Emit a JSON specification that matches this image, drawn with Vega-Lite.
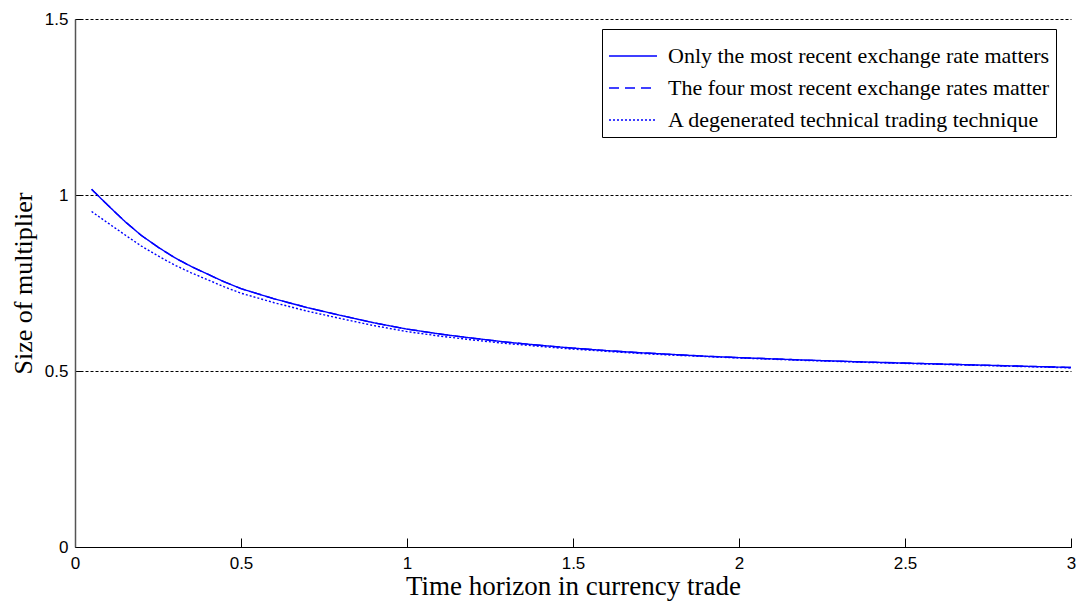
{
  "$schema": "https://vega.github.io/schema/vega-lite/v6.json",
  "width": 996,
  "height": 528,
  "autosize": "none",
  "padding": {"left": 75, "top": 19, "right": 9, "bottom": 55},
  "background": "white",
  "config": {"view": {"stroke": null}},
  "datasets": {
    "curves": [
      {"t": 0.05, "m": 1.016, "s": "Only the most recent exchange rate matters"},
      {"t": 0.1, "m": 0.970, "s": "Only the most recent exchange rate matters"},
      {"t": 0.15, "m": 0.925, "s": "Only the most recent exchange rate matters"},
      {"t": 0.2, "m": 0.885, "s": "Only the most recent exchange rate matters"},
      {"t": 0.25, "m": 0.852, "s": "Only the most recent exchange rate matters"},
      {"t": 0.3, "m": 0.822, "s": "Only the most recent exchange rate matters"},
      {"t": 0.35, "m": 0.797, "s": "Only the most recent exchange rate matters"},
      {"t": 0.4, "m": 0.775, "s": "Only the most recent exchange rate matters"},
      {"t": 0.45, "m": 0.753, "s": "Only the most recent exchange rate matters"},
      {"t": 0.5, "m": 0.734, "s": "Only the most recent exchange rate matters"},
      {"t": 0.6, "m": 0.705, "s": "Only the most recent exchange rate matters"},
      {"t": 0.7, "m": 0.680, "s": "Only the most recent exchange rate matters"},
      {"t": 0.8, "m": 0.658, "s": "Only the most recent exchange rate matters"},
      {"t": 0.9, "m": 0.637, "s": "Only the most recent exchange rate matters"},
      {"t": 1.0, "m": 0.619, "s": "Only the most recent exchange rate matters"},
      {"t": 1.1, "m": 0.605, "s": "Only the most recent exchange rate matters"},
      {"t": 1.2, "m": 0.593, "s": "Only the most recent exchange rate matters"},
      {"t": 1.3, "m": 0.582, "s": "Only the most recent exchange rate matters"},
      {"t": 1.4, "m": 0.573, "s": "Only the most recent exchange rate matters"},
      {"t": 1.5, "m": 0.565, "s": "Only the most recent exchange rate matters"},
      {"t": 1.6, "m": 0.558, "s": "Only the most recent exchange rate matters"},
      {"t": 1.7, "m": 0.552, "s": "Only the most recent exchange rate matters"},
      {"t": 1.8, "m": 0.547, "s": "Only the most recent exchange rate matters"},
      {"t": 1.9, "m": 0.542, "s": "Only the most recent exchange rate matters"},
      {"t": 2.0, "m": 0.538, "s": "Only the most recent exchange rate matters"},
      {"t": 2.2, "m": 0.531, "s": "Only the most recent exchange rate matters"},
      {"t": 2.4, "m": 0.525, "s": "Only the most recent exchange rate matters"},
      {"t": 2.6, "m": 0.520, "s": "Only the most recent exchange rate matters"},
      {"t": 2.8, "m": 0.515, "s": "Only the most recent exchange rate matters"},
      {"t": 3.0, "m": 0.510, "s": "Only the most recent exchange rate matters"},
      {"t": 0.05, "m": 1.016, "s": "The four most recent exchange rates matter"},
      {"t": 0.1, "m": 0.970, "s": "The four most recent exchange rates matter"},
      {"t": 0.15, "m": 0.925, "s": "The four most recent exchange rates matter"},
      {"t": 0.2, "m": 0.885, "s": "The four most recent exchange rates matter"},
      {"t": 0.25, "m": 0.852, "s": "The four most recent exchange rates matter"},
      {"t": 0.3, "m": 0.822, "s": "The four most recent exchange rates matter"},
      {"t": 0.35, "m": 0.797, "s": "The four most recent exchange rates matter"},
      {"t": 0.4, "m": 0.775, "s": "The four most recent exchange rates matter"},
      {"t": 0.45, "m": 0.753, "s": "The four most recent exchange rates matter"},
      {"t": 0.5, "m": 0.734, "s": "The four most recent exchange rates matter"},
      {"t": 0.6, "m": 0.705, "s": "The four most recent exchange rates matter"},
      {"t": 0.7, "m": 0.680, "s": "The four most recent exchange rates matter"},
      {"t": 0.8, "m": 0.658, "s": "The four most recent exchange rates matter"},
      {"t": 0.9, "m": 0.637, "s": "The four most recent exchange rates matter"},
      {"t": 1.0, "m": 0.619, "s": "The four most recent exchange rates matter"},
      {"t": 1.1, "m": 0.605, "s": "The four most recent exchange rates matter"},
      {"t": 1.2, "m": 0.593, "s": "The four most recent exchange rates matter"},
      {"t": 1.3, "m": 0.582, "s": "The four most recent exchange rates matter"},
      {"t": 1.4, "m": 0.573, "s": "The four most recent exchange rates matter"},
      {"t": 1.5, "m": 0.565, "s": "The four most recent exchange rates matter"},
      {"t": 1.6, "m": 0.558, "s": "The four most recent exchange rates matter"},
      {"t": 1.7, "m": 0.552, "s": "The four most recent exchange rates matter"},
      {"t": 1.8, "m": 0.547, "s": "The four most recent exchange rates matter"},
      {"t": 1.9, "m": 0.542, "s": "The four most recent exchange rates matter"},
      {"t": 2.0, "m": 0.538, "s": "The four most recent exchange rates matter"},
      {"t": 2.2, "m": 0.531, "s": "The four most recent exchange rates matter"},
      {"t": 2.4, "m": 0.525, "s": "The four most recent exchange rates matter"},
      {"t": 2.6, "m": 0.520, "s": "The four most recent exchange rates matter"},
      {"t": 2.8, "m": 0.515, "s": "The four most recent exchange rates matter"},
      {"t": 3.0, "m": 0.510, "s": "The four most recent exchange rates matter"},
      {"t": 0.05, "m": 0.953, "s": "A degenerated technical trading technique"},
      {"t": 0.1, "m": 0.920, "s": "A degenerated technical trading technique"},
      {"t": 0.15, "m": 0.887, "s": "A degenerated technical trading technique"},
      {"t": 0.2, "m": 0.855, "s": "A degenerated technical trading technique"},
      {"t": 0.25, "m": 0.827, "s": "A degenerated technical trading technique"},
      {"t": 0.3, "m": 0.801, "s": "A degenerated technical trading technique"},
      {"t": 0.35, "m": 0.779, "s": "A degenerated technical trading technique"},
      {"t": 0.4, "m": 0.759, "s": "A degenerated technical trading technique"},
      {"t": 0.45, "m": 0.739, "s": "A degenerated technical trading technique"},
      {"t": 0.5, "m": 0.721, "s": "A degenerated technical trading technique"},
      {"t": 0.6, "m": 0.694, "s": "A degenerated technical trading technique"},
      {"t": 0.7, "m": 0.670, "s": "A degenerated technical trading technique"},
      {"t": 0.8, "m": 0.649, "s": "A degenerated technical trading technique"},
      {"t": 0.9, "m": 0.629, "s": "A degenerated technical trading technique"},
      {"t": 1.0, "m": 0.612, "s": "A degenerated technical trading technique"},
      {"t": 1.1, "m": 0.599, "s": "A degenerated technical trading technique"},
      {"t": 1.2, "m": 0.588, "s": "A degenerated technical trading technique"},
      {"t": 1.3, "m": 0.578, "s": "A degenerated technical trading technique"},
      {"t": 1.4, "m": 0.570, "s": "A degenerated technical trading technique"},
      {"t": 1.5, "m": 0.562, "s": "A degenerated technical trading technique"},
      {"t": 1.6, "m": 0.556, "s": "A degenerated technical trading technique"},
      {"t": 1.7, "m": 0.550, "s": "A degenerated technical trading technique"},
      {"t": 1.8, "m": 0.545, "s": "A degenerated technical trading technique"},
      {"t": 1.9, "m": 0.541, "s": "A degenerated technical trading technique"},
      {"t": 2.0, "m": 0.537, "s": "A degenerated technical trading technique"},
      {"t": 2.2, "m": 0.530, "s": "A degenerated technical trading technique"},
      {"t": 2.4, "m": 0.524, "s": "A degenerated technical trading technique"},
      {"t": 2.6, "m": 0.519, "s": "A degenerated technical trading technique"},
      {"t": 2.8, "m": 0.514, "s": "A degenerated technical trading technique"},
      {"t": 3.0, "m": 0.509, "s": "A degenerated technical trading technique"}
    ]
  },
  "data": {"name": "curves"},
  "mark": {"type": "line", "color": "#0000ff", "strokeWidth": 1.4, "clip": true},
  "encoding": {
    "x": {
      "field": "t",
      "type": "quantitative",
      "scale": {"domain": [0, 3], "nice": false, "zero": false},
      "axis": {
        "title": "Time horizon in currency trade",
        "values": [0, 0.5, 1, 1.5, 2, 2.5, 3],
        "format": "~g",
        "grid": false,
        "domainColor": "#000000",
        "domainWidth": 1.2,
        "tickColor": "#000000",
        "tickSize": -9,
        "tickWidth": 1,
        "labelFont": "Liberation Sans",
        "labelFontSize": 17,
        "labelColor": "#000000",
        "labelPadding": 17,
        "labelFlush": false,
        "titleFont": "Liberation Serif",
        "titleFontSize": 27,
        "titleFontWeight": "normal",
        "titleColor": "#000000",
        "titlePadding": 2
      }
    },
    "y": {
      "field": "m",
      "type": "quantitative",
      "scale": {"domain": [0, 1.5], "nice": false, "zero": false},
      "axis": {
        "title": "Size of multiplier",
        "values": [0, 0.5, 1, 1.5],
        "format": "~g",
        "grid": true,
        "gridColor": "#000000",
        "gridDash": [3, 2],
        "gridWidth": 1,
        "gridOpacity": 1,
        "domainColor": "#555555",
        "domainWidth": 1.5,
        "tickColor": "#000000",
        "tickSize": -6,
        "labelFont": "Liberation Sans",
        "labelFontSize": 17,
        "labelColor": "#000000",
        "labelPadding": 13,
        "titleFont": "Liberation Serif",
        "titleFontSize": 26,
        "titleFontWeight": "normal",
        "titleColor": "#000000",
        "titlePadding": 8
      }
    },
    "strokeDash": {
      "field": "s",
      "type": "nominal",
      "scale": {
        "domain": ["Only the most recent exchange rate matters", "The four most recent exchange rates matter", "A degenerated technical trading technique"],
        "range": [[1, 0], [10, 6], [2, 2]]
      },
      "legend": {
        "title": null,
        "orient": "none",
        "legendX": 527,
        "legendY": 10,
        "strokeColor": "#000000",
        "fillColor": "#ffffff",
        "padding": 6,
        "symbolType": "M-1.2,0H1.2",
        "symbolSize": 1600,
        "symbolOffset": 4,
        "symbolStrokeWidth": 1.4,
        "symbolStrokeColor": "#0000ff",
        "labelFont": "Liberation Serif",
        "labelFontSize": 22,
        "labelColor": "#000000",
        "labelLimit": 1000,
        "labelOffset": 14,
        "rowPadding": 0
      }
    }
  }
}
